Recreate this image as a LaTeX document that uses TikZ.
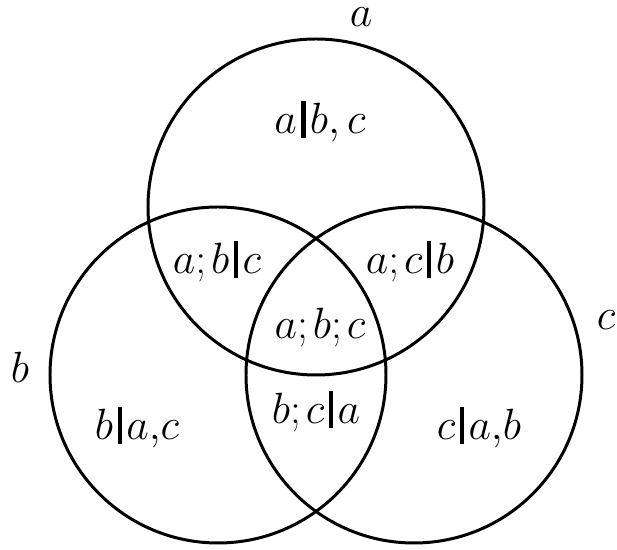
\documentclass[tikz,border=0pt]{standalone}
\usepackage{amsmath,amssymb}
\usepackage{tikz}
\usetikzlibrary{positioning,calc}

\newcommand{\gv}{\mathord{\kern0.1em\rule[-0.1em]{0.1em}{0.84em}\kern0.1em}}
\newcommand{\sm}{\mathord{;}\mspace{2mu}}

\begin{document}
\begin{tikzpicture}[
  set/.style={draw, line width=1.7pt},
  region/.style={font=\fontsize{25}{29}\selectfont, inner sep=0pt},
  setname/.style={font=\fontsize{25}{29}\selectfont, inner sep=0pt}
]
\useasboundingbox (0,0) rectangle (12.34,11);
\draw[set] (6.32,6.86) circle (3.36);
\draw[set] (4.36,3.50) circle (3.36);
\draw[set] (8.28,3.50) circle (3.36);
\node[setname] (na) at (7.22,10.66) {$a$};
\node[setname] (nb) at (0.40,3.66) {$b$};
\node[setname] (nc) at (12.12,4.60) {$c$};
\node[region] (Ra) at (6.40,8.57) {$a\gv b,c$};
\node[region] (Rab) at (4.34,5.76) {$a\sm b\gv c$};
\node[region] (Rac) at (8.20,5.76) {$a\sm c\gv b$};
\node[region] (Rabc) at (6.40,4.44) {$a\sm b\sm c$};
\node[region] (Rb) at (2.74,2.44) {$b\gv a{,}c$};
\node[region] (Rbc) at (6.32,2.76) {$b\sm c\gv a$};
\node[region] (Rc) at (9.58,2.44) {$c\gv a{,}b$};
\end{tikzpicture}
\end{document}
